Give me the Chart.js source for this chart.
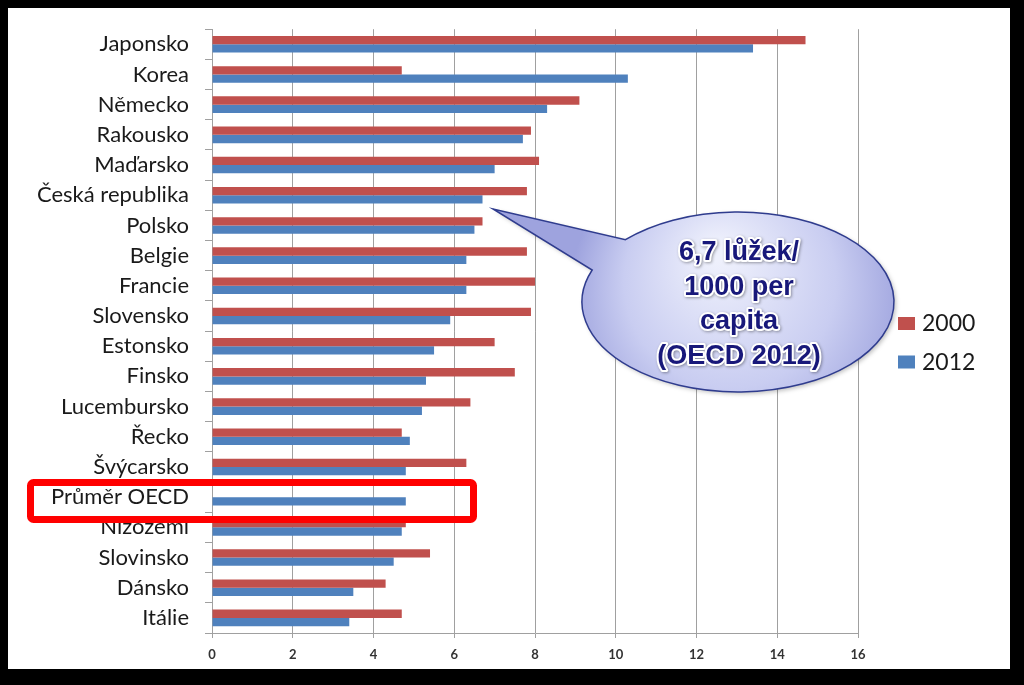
<!DOCTYPE html>
<html>
<head>
<meta charset="utf-8">
<script src="https://cdn.jsdelivr.net/npm/chart.js@4.4.1/dist/chart.umd.min.js"></script>
<style>
html,body{margin:0;padding:0;background:#000;}
#wrap{width:1024px;height:685px;position:relative;}
</style>
</head>
<body>
<div id="wrap"><canvas id="c"></canvas></div>
<script>
const categories = ["Japonsko","Korea","Německo","Rakousko","Maďarsko","Česká republika","Polsko","Belgie","Francie","Slovensko","Estonsko","Finsko","Lucembursko","Řecko","Švýcarsko","Průměr OECD","Nizozemí","Slovinsko","Dánsko","Itálie"];
const values2000 = [14.7,4.7,9.1,7.9,8.1,7.8,6.7,7.8,8.0,7.9,7.0,7.5,6.4,4.7,6.3,null,4.8,5.4,4.3,4.7];
const values2012 = [13.4,10.3,8.3,7.7,7.0,6.7,6.5,6.3,6.3,5.9,5.5,5.3,5.2,4.9,4.8,4.8,4.7,4.5,3.5,3.4];
const seriesLabels = ["2000","2012"];
const xTicks = [0,2,4,6,8,10,12,14,16];
const calloutLines = ["6,7 lůžek/","1000 per","capita","(OECD 2012)"];

const RED = '#c0504d', BLUE = '#4f81bd';

const framePlugin = {
  id: 'frame',
  beforeDraw(chart) {
    const ctx = chart.ctx;
    ctx.save();
    ctx.fillStyle = '#000';
    ctx.fillRect(0, 0, chart.width, chart.height);
    ctx.fillStyle = '#fff';
    ctx.fillRect(8, 8, 1002, 661);
    ctx.restore();
  },
  afterDraw(chart) {
    const ctx = chart.ctx;
    ctx.save();
    // custom legend
    ctx.font = '23px Lato';
    ctx.textBaseline = 'middle';
    ctx.textAlign = 'left';
    chart.data.datasets.forEach((ds, i) => {
      const y = 323 + i * 38.5;
      ctx.fillStyle = ds.backgroundColor;
      ctx.fillRect(898, y - 6, 17, 13);
      ctx.fillStyle = '#1a1a1a';
      ctx.fillText(ds.label, 922, y + 1);
    });

    // callout bubble
    const cx = 738, cy = 302, rx = 156, ry = 90;
    const grad = ctx.createRadialGradient(cx - 20, cy - 50, 10, cx, cy, 170);
    grad.addColorStop(0, '#eef0fc');
    grad.addColorStop(0.6, '#c9cdf1');
    grad.addColorStop(1, '#9ea3de');
    const a1 = Math.atan2((240 - cy) / ry, (626 - cx) / rx);
    const a2 = Math.atan2((270 - cy) / ry, (592 - cx) / rx);
    ctx.beginPath();
    ctx.ellipse(cx, cy, rx, ry, 0, a1, a2 + 2 * Math.PI, false);
    ctx.lineTo(493, 209);
    ctx.closePath();
    ctx.fillStyle = grad;
    ctx.shadowColor = 'rgba(0,0,0,0.25)';
    ctx.shadowBlur = 4;
    ctx.shadowOffsetX = 2;
    ctx.shadowOffsetY = 2;
    ctx.fill();
    ctx.shadowColor = 'transparent';
    ctx.lineWidth = 1.5;
    ctx.strokeStyle = '#2f3c8e';
    ctx.stroke();

    ctx.font = 'bold 27px "Liberation Sans", Arial';
    ctx.textAlign = 'center';
    ctx.textBaseline = 'middle';
    ctx.lineJoin = 'round';
    calloutLines.forEach((t, i) => {
      const y = 253 + i * 34.5;
      ctx.shadowColor = 'rgba(0,0,0,0.35)';
      ctx.shadowBlur = 3;
      ctx.shadowOffsetX = 1;
      ctx.shadowOffsetY = 1;
      ctx.lineWidth = 4;
      ctx.strokeStyle = '#ffffff';
      ctx.strokeText(t, 739, y);
      ctx.shadowColor = 'transparent';
      ctx.fillStyle = '#18187a';
      ctx.fillText(t, 739, y);
    });

    // red highlight box
    ctx.lineWidth = 7;
    ctx.strokeStyle = '#ff0000';
    ctx.lineJoin = 'round';
    ctx.beginPath();
    if (ctx.roundRect) ctx.roundRect(30.5, 482.5, 443, 37, 3); else ctx.rect(30.5, 482.5, 443, 37);
    ctx.stroke();
    ctx.restore();
  }
};

new Chart(document.getElementById('c'), {
  type: 'bar',
  data: {
    labels: categories,
    datasets: [
      { label: seriesLabels[0], data: values2000, backgroundColor: RED },
      { label: seriesLabels[1], data: values2012, backgroundColor: BLUE }
    ]
  },
  options: {
    indexAxis: 'y',
    responsive: true,
    maintainAspectRatio: false,
    animation: false,
    layout: { padding: { left: 0, right: 166, top: 29, bottom: 0 } },
    datasets: { bar: { categoryPercentage: 0.55, barPercentage: 1.0 } },
    plugins: { legend: { display: false }, tooltip: { enabled: false } },
    scales: {
      x: {
        min: 0, max: 16,
        afterBuildTicks(scale) { scale.ticks = xTicks.map(v => ({ value: v })); },
        grid: { color: '#a0a0a0', lineWidth: 1, drawTicks: true, tickLength: 5 },
        border: { color: '#a0a0a0' },
        ticks: { font: { family: 'Lato', size: 13, weight: 'bold' }, color: '#333', padding: 9 },
        afterFit(scale) { scale.height = 52; }
      },
      y: {
        grid: { offset: true, drawOnChartArea: false, drawTicks: true, tickLength: 7, color: '#a0a0a0' },
        border: { color: '#a0a0a0' },
        ticks: { font: { family: 'Lato', size: 22 }, color: '#1a1a1a', padding: 16, autoSkip: false },
        afterFit(scale) { scale.width = 212; }
      }
    }
  },
  plugins: [framePlugin]
});
</script>
</body>
</html>
